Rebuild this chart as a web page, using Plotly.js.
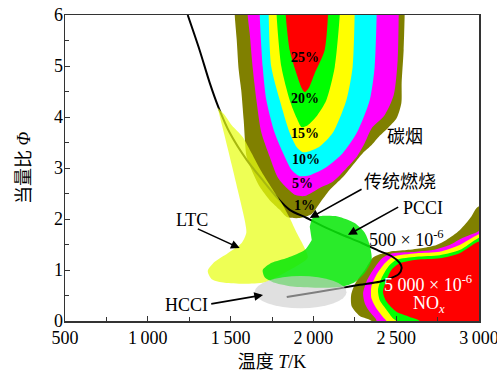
<!DOCTYPE html>
<html><head><meta charset="utf-8">
<script src="https://cdn.plot.ly/plotly-3.0.1.min.js"></script>
<style>html,body{margin:0;padding:0;background:#fff;}#chart{width:497px;height:372px;}</style>
</head><body><div id="chart"></div>
<script>
// ---- soot contours (temperature K, equivalence ratio) ----
const sootOliveT = [1525,1525,1537,1549,1564,1579,1597,1627,1676,1736,1797,1839,1917,1990,2038,2098,2177,2249,2298,2352,2400,2449,2503,2531,2533,2545,2551,2551];
const sootOlivePhi = [6.2,6.0,5.51,4.92,4.53,3.94,3.22,2.96,2.63,2.37,2.18,2.04,2.02,2.10,2.31,2.57,2.82,3.10,3.29,3.45,3.63,3.78,3.98,4.27,4.67,5.31,6.0,6.2];
const sootMagentaT = [1603,1603,1615,1633,1656,1686,1736,1784,1839,1893,1947,2038,2117,2201,2262,2310,2352,2431,2485,2509,2515,2515];
const sootMagentaPhi = [6.2,6.0,5.65,4.98,4.33,3.69,3.22,2.82,2.61,2.47,2.45,2.61,2.73,3.00,3.22,3.49,3.78,4.04,4.43,5.12,6.0,6.2];
const sootCyanT = [1676,1676,1694,1716,1766,1827,1869,1917,1978,2080,2177,2262,2340,2370,2382,2382];
const sootCyanPhi = [6.2,6.0,4.98,4.33,3.69,3.22,2.96,2.84,2.86,3.02,3.29,3.69,4.33,4.98,6.0,6.2];
const sootYellowT = [1730,1730,1746,1797,1857,1899,1935,1978,2038,2117,2199,2237,2249,2249];
const sootYellowPhi = [6.2,6.0,4.98,4.33,3.69,3.41,3.31,3.33,3.42,3.69,4.33,4.98,6.0,6.2];
const sootGreenT = [1778,1778,1807,1857,1899,1929,1966,2018,2078,2129,2159,2159];
const sootGreenPhi = [6.2,6.0,4.98,4.33,3.98,3.80,3.84,4.01,4.33,4.98,6.0,6.2];
const sootRedT = [1833,1833,1857,1897,1929,1947,1972,2008,2068,2088,2088];
const sootRedPhi = [6.2,6.0,5.31,4.86,4.57,4.49,4.57,4.86,5.31,6.0,6.2];

// ---- NOx contours ----
const noxOliveT = [3065,2984,2954,2883,2803,2743,2662,2562,2461,2400,2358,2310,2255,2228,2231,2280,2352,2352,3065];
const noxOlivePhi = [2.37,2.21,2.05,1.78,1.59,1.49,1.43,1.39,1.36,1.31,1.24,1.00,0.75,0.51,0.29,0.10,0.0,-0.2,-0.2];
const noxMagentaT = [3065,2992,2902,2823,2720,2622,2479,2418,2360,2320,2300,2310,2340,2380,2380,3065];
const noxMagentaPhi = [1.88,1.75,1.63,1.49,1.39,1.36,1.33,1.24,1.00,0.77,0.54,0.35,0.18,0.02,-0.2,-0.2];
const noxYellowT = [3065,2992,2883,2763,2622,2479,2431,2380,2350,2350,2380,2420,2441,2441,3065];
const noxYellowPhi = [1.78,1.69,1.49,1.36,1.33,1.26,1.13,0.90,0.67,0.45,0.25,0.08,0.0,-0.2,-0.2];
const noxGreenT = [3065,2992,2883,2763,2622,2501,2451,2411,2390,2400,2441,2481,2501,2501,3065];
const noxGreenPhi = [1.69,1.62,1.39,1.29,1.26,1.20,1.06,0.84,0.61,0.41,0.22,0.05,0.0,-0.2,-0.2];
const noxRedT = [3065,2992,2883,2763,2622,2521,2471,2441,2420,2441,2501,2582,2642,2642,3065];
const noxRedPhi = [1.59,1.55,1.33,1.23,1.20,1.13,1.00,0.80,0.57,0.38,0.18,0.08,0.0,-0.2,-0.2];

// ---- combustion regimes ----
const ltcT = [1422,1464,1507,1573,1627,1688,1748,1809,1857,1899,1941,1966,1857,1706,1585,1464,1386,1362,1404,1483,1567,1595,1585,1543,1507,1470,1440];
const ltcPhi = [4.18,4.04,3.84,3.61,3.29,2.92,2.61,2.31,2.02,1.73,1.47,1.24,1.00,0.76,0.73,0.75,0.82,0.98,1.16,1.33,1.53,1.73,1.98,2.57,3.06,3.55,3.94];
const pcciT = [1978,1996,2050,2147,2249,2310,2340,2352,2310,2249,2171,2050,1887,1766,1706,1694,1748,1845,1947,1990];
const pcciPhi = [1.85,2.02,2.06,2.05,1.92,1.73,1.49,1.20,0.94,0.76,0.67,0.65,0.67,0.75,0.86,1.00,1.14,1.24,1.39,1.59];
const hcciT = [1645, 2200];
const hcciPhi = [0.25, 0.88];

// ---- conventional combustion path ----
const pathT = [1241,1313,1374,1428,1495,1597,1694,1778,1857,1960,2056,2159,2292,2400,2473,2521,2533,2515,2467,2400,2280,2159,2026,1839];
const pathPhi = [6.0,5.31,4.67,4.18,3.69,3.16,2.76,2.43,2.18,2.02,1.86,1.71,1.53,1.37,1.27,1.14,1.04,0.92,0.84,0.77,0.71,0.64,0.57,0.47];

// ---- ticks ----
const xTickVals = [500,1000,1500,2000,2500,3000];
const xTickText = ['500','1\u2009000','1\u2009500','2\u2009000','2\u2009500','3\u2009000'];

const FONT = '"Liberation Serif", "Noto Sans CJK SC", serif';

function poly(x, y, color, smooth) {
  return {type:'scatter', x:x, y:y, mode:'lines', fill:'toself', fillcolor:color,
    line:{width:0, color:color, shape: smooth ? 'spline' : 'linear', smoothing:0.7},
    hoverinfo:'skip', showlegend:false};
}

const traces = [
  poly(sootOliveT, sootOlivePhi, '#808000', true),
  poly(sootMagentaT, sootMagentaPhi, '#FF00FF', true),
  poly(sootCyanT, sootCyanPhi, '#00FFFF', true),
  poly(sootYellowT, sootYellowPhi, '#FFFF00', true),
  poly(sootGreenT, sootGreenPhi, '#00FF00', true),
  poly(sootRedT, sootRedPhi, '#FF0000', true),
  poly(noxOliveT, noxOlivePhi, '#808000', true),
  poly(noxMagentaT, noxMagentaPhi, '#FF00FF', true),
  poly(noxYellowT, noxYellowPhi, '#FFFF00', true),
  poly(noxGreenT, noxGreenPhi, '#00FF00', true),
  poly(noxRedT, noxRedPhi, '#FF0000', true),
  {type:'scatter', x:pathT, y:pathPhi, mode:'lines', line:{color:'#000', width:2, shape:'spline', smoothing:0.8},
    hoverinfo:'skip', showlegend:false},
  poly(ltcT, ltcPhi, 'rgba(232,255,20,0.72)', true),
  poly(pcciT, pcciPhi, 'rgba(10,232,10,0.87)', true)
];

function label(x, y, text, opts) {
  return Object.assign({x:x, y:y, xref:'x', yref:'y', text:text, showarrow:false,
    font:{family:FONT, size:18, color:'#000'}}, opts || {});
}
function arrow(x0, y0, x1, y1) {
  return {x:x1, y:y1, ax:x0, ay:y0, xref:'x', yref:'y', axref:'x', ayref:'y', text:'',
    showarrow:true, arrowhead:2, arrowsize:1.1, arrowwidth:1.6, arrowcolor:'#000', standoff:0, startstandoff:0};
}
const pctFont = {family:FONT, size:14, color:'#000', weight:'bold'};

const annotations = [
  label(1947, 5.16, '<b>25%</b>', {font:pctFont}),
  label(1947, 4.37, '<b>20%</b>', {font:pctFont}),
  label(1947, 3.68, '<b>15%</b>', {font:pctFont}),
  label(1953, 3.16, '<b>10%</b>', {font:pctFont}),
  label(1937, 2.69, '<b>5%</b>', {font:pctFont}),
  label(1947, 2.27, '<b>1%</b>', {font:pctFont}),
  label(2551, 3.61, '碳烟'),
  label(2521, 2.73, '传统燃烧'),
  label(2662, 2.21, 'PCCI'),
  label(2560, 1.62, '500 × 10<sup>-6</sup>'),
  label(2692, 0.73, '5 000 × 10<sup>-6</sup>', {font:{family:FONT, size:18, color:'#fff'}}),
  label(2697, 0.33, 'NO<sub><i>x</i></sub>', {font:{family:FONT, size:18, color:'#fff'}}),
  label(1267, 1.98, 'LTC'),
  label(1232, 0.31, 'HCCI'),
  arrow(2300, 2.60, 1978, 2.02),
  arrow(2521, 2.25, 2209, 1.69),
  arrow(1293, 1.82, 1555, 1.43),
  arrow(1374, 0.33, 1696, 0.51)
];

const axisCommon = {
  showgrid:false, zeroline:false, showline:true, linecolor:'#333', linewidth:1.5, mirror:true,
  ticks:'inside', ticklen:5, tickwidth:1, tickcolor:'#333', ticklabeloverflow:'allow',
  tickfont:{family:FONT, size:18, color:'#000'}
};

const layout = {
  width:497, height:372,
  margin:{l:65, r:18, t:15, b:51},
  paper_bgcolor:'#fff', plot_bgcolor:'#fff',
  xaxis:Object.assign({}, axisCommon, {
    range:[500,3000], tickvals:xTickVals, ticktext:xTickText,
    minor:{dtick:250, tick0:500, ticks:'inside', ticklen:4, tickcolor:'#333', showgrid:false},
    title:{text:'温度 <i>T</i>/K', font:{family:FONT, size:18, color:'#000'}, standoff:8}
  }),
  yaxis:Object.assign({}, axisCommon, {
    range:[0,6], dtick:1, tick0:0, ticklabelstandoff:-3,
    minor:{dtick:0.5, tick0:0, ticks:'inside', ticklen:4, tickcolor:'#333', showgrid:false},
    title:{text:'当量比 <i>Φ</i>', font:{family:FONT, size:18, color:'#000'}, standoff:18}
  }),
  shapes:[{type:'circle', xref:'x', yref:'y', x0:hcciT[0], x1:hcciT[1], y0:hcciPhi[0], y1:hcciPhi[1],
    fillcolor:'rgba(205,205,205,0.62)', line:{width:0}, layer:'above'}],
  annotations:annotations
};

Plotly.newPlot('chart', traces, layout, {staticPlot:true, displayModeBar:false});
</script>
</body></html>
